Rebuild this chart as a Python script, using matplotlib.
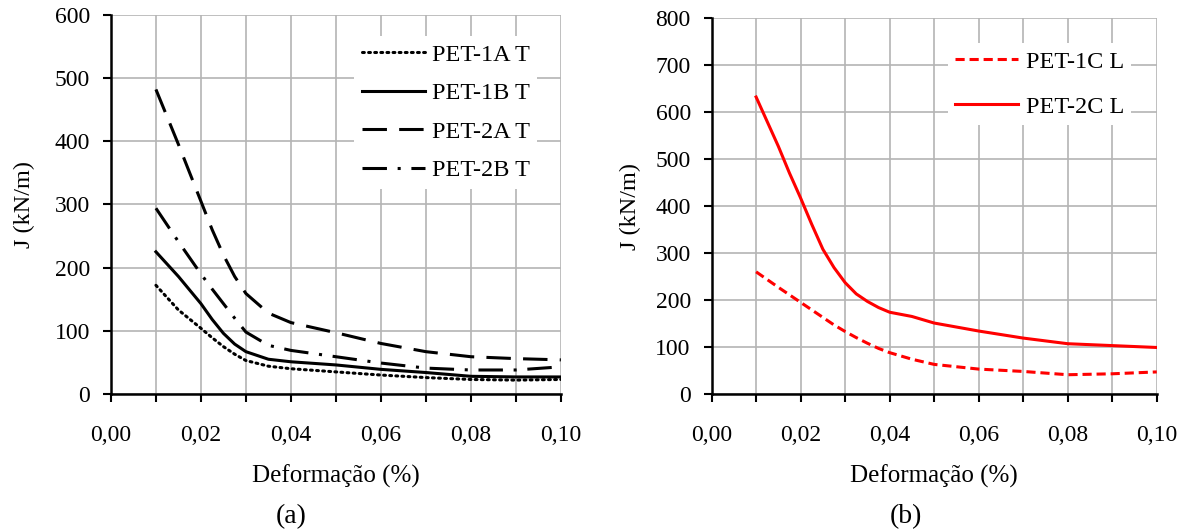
import matplotlib
matplotlib.use("Agg")
import matplotlib.pyplot as plt
from matplotlib.ticker import MultipleLocator, FuncFormatter

plt.rcParams['font.family'] = ['Liberation Serif', 'DejaVu Serif']

# ---- data ----
x_a = [0.010, 0.015, 0.020, 0.0225, 0.025, 0.0275, 0.030, 0.035, 0.040,
       0.050, 0.060, 0.070, 0.080, 0.090, 0.100]
pet1a_t = [172, 133, 104, 89, 75, 63, 53, 44, 40, 35, 30, 26, 23, 22, 23]
pet1b_t = [225, 186, 143, 118, 96, 79, 67, 55, 51, 46, 39, 34, 28, 27, 27]
pet2a_t = [482, 395, 305, 260, 220, 186, 159, 128, 113, 97, 80, 67, 59, 56, 54]
pet2b_t = [294, 241, 190, 166, 143, 120, 98, 77, 69, 59, 49, 41, 38, 38, 43]

x_b = [0.010, 0.015, 0.0175, 0.020, 0.0225, 0.025, 0.0275, 0.030, 0.0325,
       0.035, 0.0375, 0.040, 0.045, 0.050, 0.060, 0.070, 0.080, 0.090, 0.100]
pet2c_l = [632, 527, 470, 417, 361, 308, 269, 237, 213, 197, 184, 174, 165,
           151, 134, 119, 107, 103, 99]
pet1c_l = [260, 227, 211, 195, 179, 163, 147, 133, 120, 108, 97, 88, 74,
           63, 53, 48, 41, 43, 47]

ylabel = "J (kN/m)"
xlabel = "Deformação (%)"

fig = plt.figure(figsize=(11.84, 5.31), dpi=100)
ax1 = fig.add_axes([0.0937, 0.258, 0.380, 0.714])
ax2 = fig.add_axes([0.601, 0.258, 0.376, 0.708])

comma = FuncFormatter(lambda v, p: f"{v:.2f}".replace('.', ','))

def style(ax, ymax, ylpad):
    ax.set_xlim(0, 0.10)
    ax.set_ylim(0, ymax)
    ax.xaxis.set_major_locator(MultipleLocator(0.02))
    ax.xaxis.set_minor_locator(MultipleLocator(0.01))
    ax.xaxis.set_major_formatter(comma)
    ax.yaxis.set_major_locator(MultipleLocator(100))
    ax.grid(True, which='both', axis='x', color='#b4b4b4', lw=1.2)
    ax.grid(True, which='major', axis='y', color='#b4b4b4', lw=1.2)
    ax.set_axisbelow(True)
    for s in ['top', 'right']:
        ax.spines[s].set_visible(False)
    for s in ['left', 'bottom']:
        ax.spines[s].set_linewidth(1.8)
    ax.tick_params(axis='x', which='both', direction='out', length=6, width=1.5,
                   labelsize=17, pad=16)
    ax.tick_params(axis='y', which='major', direction='out', length=6, width=1.5,
                   labelsize=17, pad=9)
    ax.set_xlabel(xlabel, fontsize=18, labelpad=14)
    ax.set_ylabel(ylabel, fontsize=17.5, labelpad=ylpad)

style(ax1, 600, 14)
style(ax2, 800, 10)

ax1.plot(x_a, pet1a_t, color='black', lw=2.2, linestyle=(0, (0.6, 1.4)),
         dash_capstyle='round', label='PET-1A T')
ax1.plot(x_a, pet1b_t, color='black', lw=2.2, linestyle='-', label='PET-1B T')
ax1.plot(x_a, pet2a_t, color='black', lw=2.2, linestyle=(0, (8, 4)), label='PET-2A T')
ax1.plot(x_a, pet2b_t, color='black', lw=2.2, linestyle=(0, (8, 3.5, 1, 3.5)), label='PET-2B T')

ax2.plot(x_b, pet1c_l, color='#ff0000', lw=2.2, linestyle=(0, (3, 1.6)), label='PET-1C L')
ax2.plot(x_b, pet2c_l, color='#ff0000', lw=2.2, linestyle='-', label='PET-2C L')

leg1 = ax1.legend(loc='upper right', bbox_to_anchor=(0.975, 0.975), fontsize=17.5,
                  frameon=True, framealpha=1, edgecolor='none', fancybox=False,
                  handlelength=2.6, handletextpad=0.3, labelspacing=0.68,
                  borderpad=0.3)
leg2 = ax2.legend(loc='upper right', bbox_to_anchor=(0.97, 0.965), fontsize=17.5,
                  frameon=True, framealpha=1, edgecolor='none', fancybox=False,
                  handlelength=2.6, handletextpad=0.3, labelspacing=0.95,
                  borderpad=0.3)

fig.text(0.246, 0.028, "(a)", fontsize=20, ha='center', va='center')
fig.text(0.765, 0.028, "(b)", fontsize=20, ha='center', va='center')

fig.savefig("out.png", dpi=100)
